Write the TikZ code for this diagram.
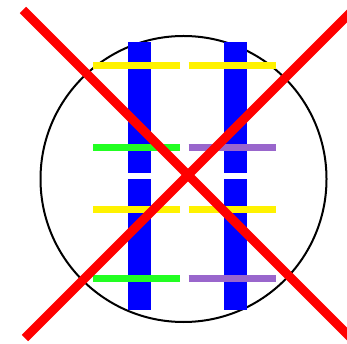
\documentclass[tikz,border=0pt]{standalone}
\begin{document}
\begin{tikzpicture}[x=1pt,y=-1pt,
  rail/.style={fill=blue},
  tie/.style={line width=7pt},
  cross/.style={draw=red,line width=9pt}]
\useasboundingbox (0,0) rectangle (347,344);
\clip (0,0) rectangle (347,344);
\fill[white] (0,0) rectangle (347,344);
\node[draw=black,line width=2pt,circle,minimum size=286pt,inner sep=0pt] (c) at (183.5,179) {};
% blue rails
\fill[rail] (127.7,42.3) rectangle (150.7,172.7);
\fill[rail] (127.7,179.3) rectangle (150.7,310);
\fill[rail] (223.7,42.3) rectangle (246.7,172.7);
\fill[rail] (223.7,179.3) rectangle (246.7,310);
% ties
\draw[tie,draw=yellow] (93,65.7) -- (180,65.7);
\draw[tie,draw=yellow] (188.7,65.7) -- (276,65.7);
\draw[tie,draw={rgb,255:red,34;green,255;blue,34}] (93,147.7) -- (180,147.7);
\draw[tie,draw={rgb,255:red,153;green,102;blue,204}] (188.7,147.7) -- (276,147.7);
\draw[tie,draw=yellow] (93,209.7) -- (180,209.7);
\draw[tie,draw=yellow] (188.7,209.7) -- (276,209.7);
\draw[tie,draw={rgb,255:red,34;green,255;blue,34}] (93,278) -- (180,278);
\draw[tie,draw={rgb,255:red,153;green,102;blue,204}] (188.7,278) -- (276,278);
% red cross
\coordinate (a1) at (23,10);
\coordinate (a2) at (360,347);
\coordinate (b1) at (25,338);
\coordinate (b2) at (360,3);
\draw[cross] (a1) -- (a2);
\draw[cross] (b1) -- (b2);
\end{tikzpicture}
\end{document}
